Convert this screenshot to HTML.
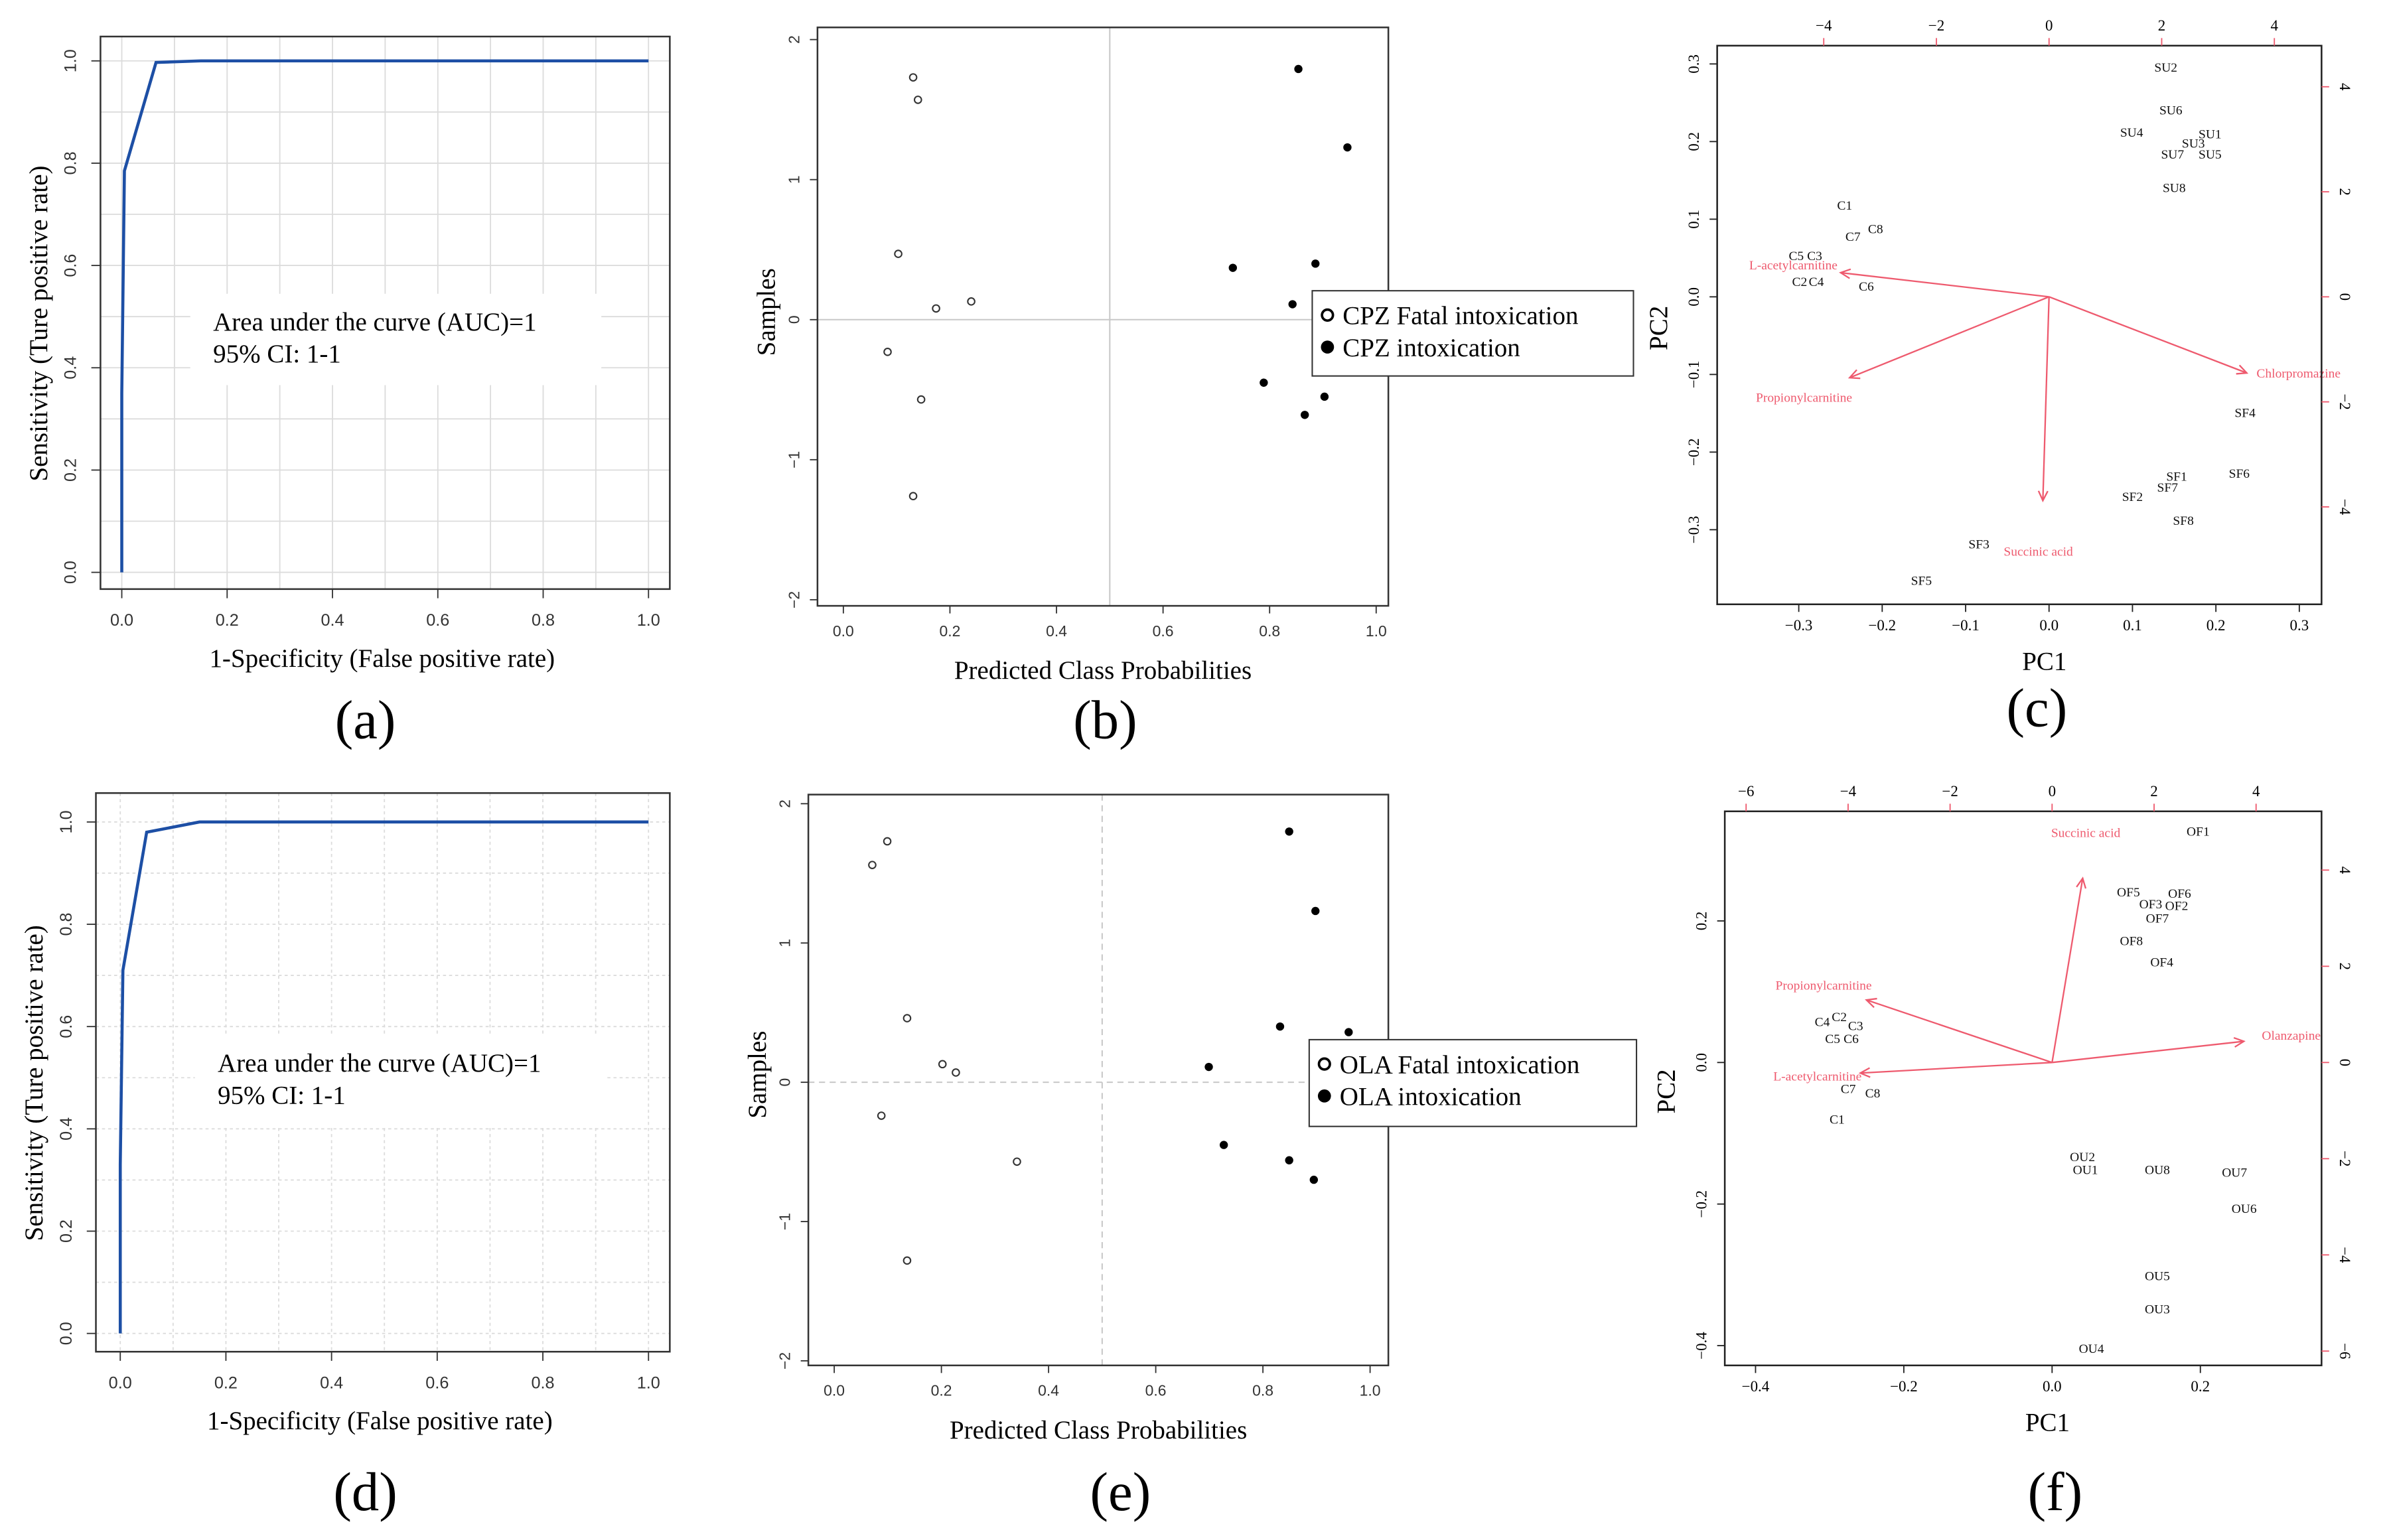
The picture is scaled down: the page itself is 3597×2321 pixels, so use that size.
<!DOCTYPE html>
<html><head><meta charset="utf-8">
<style>
html,body{margin:0;padding:0;background:#fff;}
svg{display:block;}
text{font-family:"Liberation Serif",serif;}
.sans{font-family:"Liberation Sans",sans-serif;}
</style></head>
<body>
<svg id="fig" xmlns="http://www.w3.org/2000/svg" width="3597" height="2321" viewBox="0 0 1568 1011.7" preserveAspectRatio="none"></svg>
<script>
// ---------- DATA ----------
// ROC (a)
const rocA_fpr = [0, 0, 0.005, 0.065, 0.15, 1];
const rocA_tpr = [0, 0.35, 0.785, 0.997, 1, 1];
// ROC (d)
const rocD_fpr = [0, 0, 0.005, 0.05, 0.15, 1];
const rocD_tpr = [0, 0.33, 0.71, 0.98, 1, 1];
const rocTicks = [0, 0.2, 0.4, 0.6, 0.8, 1.0];
const rocTickLabels = ["0.0","0.2","0.4","0.6","0.8","1.0"];
// Scatter (b)
const bFatalX = [0.131, 0.140, 0.103, 0.240, 0.174, 0.083, 0.146, 0.131];
const bFatalY = [1.73, 1.57, 0.47, 0.13, 0.08, -0.23, -0.57, -1.26];
const bIntoxX = [0.854, 0.946, 0.731, 0.886, 0.843, 0.789, 0.903, 0.866];
const bIntoxY = [1.79, 1.23, 0.37, 0.40, 0.11, -0.45, -0.55, -0.68];
// Scatter (e)
const eFatalX = [0.099, 0.071, 0.136, 0.202, 0.227, 0.088, 0.341, 0.136];
const eFatalY = [1.73, 1.56, 0.46, 0.13, 0.07, -0.24, -0.57, -1.28];
const eIntoxX = [0.849, 0.898, 0.832, 0.960, 0.699, 0.727, 0.849, 0.895];
const eIntoxY = [1.80, 1.23, 0.40, 0.36, 0.11, -0.45, -0.56, -0.70];
const probTicks = [0, 0.2, 0.4, 0.6, 0.8, 1.0];
const probTickLabels = ["0.0","0.2","0.4","0.6","0.8","1.0"];
const sampTicks = [2, 1, 0, -1, -2];
const sampTickLabels = ["2","1","0","\u22121","\u22122"];
// Biplot (c)
const cNames = ["SU2","SU6","SU4","SU1","SU3","SU7","SU5","SU8","C1","C7","C8","C5","C3","C2","C4","C6","SF4","SF6","SF1","SF7","SF2","SF8","SF3","SF5"];
const cPC1 = [0.140,0.146,0.099,0.193,0.173,0.148,0.193,0.150,-0.245,-0.235,-0.208,-0.303,-0.281,-0.299,-0.279,-0.219,0.235,0.228,0.153,0.142,0.100,0.161,-0.084,-0.153];
const cPC2 = [0.296,0.241,0.212,0.210,0.198,0.184,0.184,0.141,0.118,0.078,0.088,0.053,0.053,0.020,0.020,0.014,-0.149,-0.227,-0.231,-0.245,-0.257,-0.288,-0.318,-0.365];
const cVarNames = ["L-acetylcarnitine","Propionylcarnitine","Succinic acid","Chlorpromazine"];
const cVarX = [-3.70, -3.54, -0.11, 3.51];
const cVarY = [0.46, -1.54, -3.88, -1.45];
const cVarLabX = [-4.54, -4.35, -0.19, 4.43];
const cVarLabY = [0.61, -1.91, -4.84, -1.45];
const cBottomTicks = [-0.3,-0.2,-0.1,0,0.1,0.2,0.3];
const cBottomLabels = ["\u22120.3","\u22120.2","\u22120.1","0.0","0.1","0.2","0.3"];
const cLeftTicks = [0.3,0.2,0.1,0,-0.1,-0.2,-0.3];
const cLeftLabels = ["0.3","0.2","0.1","0.0","\u22120.1","\u22120.2","\u22120.3"];
const cTopTicks = [-4,-2,0,2,4];
const cTopLabels = ["\u22124","\u22122","0","2","4"];
const cRightTicks = [4,2,0,-2,-4];
const cRightLabels = ["4","2","0","\u22122","\u22124"];
// Biplot (f)
const fNames = ["OF1","OF5","OF6","OF3","OF2","OF7","OF8","OF4","C2","C4","C3","C5","C6","C7","C8","C1","OU2","OU1","OU8","OU7","OU6","OU5","OU3","OU4"];
const fPC1 = [0.197,0.103,0.172,0.133,0.168,0.142,0.107,0.148,-0.287,-0.310,-0.265,-0.296,-0.271,-0.275,-0.242,-0.290,0.041,0.045,0.142,0.246,0.259,0.142,0.142,0.053];
const fPC2 = [0.327,0.241,0.239,0.224,0.222,0.204,0.172,0.142,0.065,0.058,0.052,0.034,0.034,-0.037,-0.043,-0.080,-0.133,-0.151,-0.151,-0.155,-0.206,-0.301,-0.348,-0.404];
const fVarNames = ["Succinic acid","Propionylcarnitine","L-acetylcarnitine","Olanzapine"];
const fVarX = [0.60, -3.64, -3.76, 3.76];
const fVarY = [3.83, 1.30, -0.22, 0.44];
const fVarLabX = [0.66, -4.48, -4.60, 4.69];
const fVarLabY = [4.78, 1.61, -0.28, 0.57];
const fBottomTicks = [-0.4,-0.2,0,0.2];
const fBottomLabels = ["\u22120.4","\u22120.2","0.0","0.2"];
const fLeftTicks = [0.2,0,-0.2,-0.4];
const fLeftLabels = ["0.2","0.0","\u22120.2","\u22120.4"];
const fTopTicks = [-6,-4,-2,0,2,4];
const fTopLabels = ["\u22126","\u22124","\u22122","0","2","4"];
const fRightTicks = [4,2,0,-2,-4,-6];
const fRightLabels = ["4","2","0","\u22122","\u22124","\u22126"];

// ---------- HELPERS ----------
const NS = 'http://www.w3.org/2000/svg';
const svg = document.getElementById('fig');
function mk(tag, a, p) { const e = document.createElementNS(NS, tag); for (const k in a) e.setAttribute(k, a[k]); (p || svg).appendChild(e); return e; }
function tx(x, y, s, a, p) { const e = mk('text', Object.assign({x: x, y: y}, a), p); e.textContent = s; return e; }
function lin(lo, hi, plo, phi) { return v => plo + (v - lo) / (hi - lo) * (phi - plo); }
const RED = '#ee5a6e';

// ---------- ROC PANEL ----------
function rocPanel(id, F, fpr, tpr, dotted, txtX, txtY) {
  const g = mk('g', {});
  
  
  const sx = lin(0, 1, F.x0v, F.x1v), sy = lin(0, 1, F.y0v, F.y1v);
  for (let i = 0; i <= 10; i++) {
    const v = i / 10;
    let l = mk('line', {x1: sx(v), x2: sx(v), y1: F.t, y2: F.b, stroke: '#dcdcdc', 'stroke-width': 0.8, 'stroke-dasharray': dotted ? '2,2' : 'none'}, g);
    
    
    l = mk('line', {x1: F.l, x2: F.r, y1: sy(v), y2: sy(v), stroke: '#dcdcdc', 'stroke-width': 0.8, 'stroke-dasharray': dotted ? '2,2' : 'none'}, g);
    
    
  }
  let bg = mk('rect', {x: txtX - 15, y: txtY - 24, width: 270, height: 60, fill: '#fff'}, g);
  
  
  let pts = fpr.map((v, i) => sx(v) + ',' + sy(tpr[i])).join(' ');
  let pl = mk('polyline', {points: pts, fill: 'none', stroke: '#1d4fa5', 'stroke-width': 2}, g);
  
  
  let fr = mk('rect', {x: F.l, y: F.t, width: F.r - F.l, height: F.b - F.t, fill: 'none', stroke: '#333', 'stroke-width': 1.1}, g);
  
  
  rocTicks.forEach((v, i) => {
    let t = mk('line', {x1: sx(v), x2: sx(v), y1: F.b, y2: F.b + 6, stroke: '#333', 'stroke-width': 0.8}, g);
    
    
    let lb = tx(sx(v), F.b + 24, rocTickLabels[i], {'text-anchor': 'middle', 'font-size': 11, class: 'sans', fill: '#333'}, g);
    
    
    t = mk('line', {x1: F.l, x2: F.l - 6, y1: sy(v), y2: sy(v), stroke: '#333', 'stroke-width': 0.8}, g);
    
    
    lb = tx(F.l - 16, sy(v), rocTickLabels[i], {'text-anchor': 'middle', 'font-size': 11, class: 'sans', fill: '#333', transform: 'rotate(-90 ' + (F.l - 16) + ' ' + sy(v) + ')'}, g);
    
    
  });
  let a1 = tx(txtX, txtY, 'Area under the curve (AUC)=1', {'font-size': 17}, g);
  
  
  let a2 = tx(txtX, txtY + 21, '95% CI: 1-1', {'font-size': 17}, g);
  
  
  let xt = tx((F.l + F.r) / 2 - 2, F.b + 51, '1-Specificity (False positive rate)', {'text-anchor': 'middle', 'font-size': 17}, g);
  
  
  const yx = F.l - 35, yy = (F.t + F.b) / 2 + 7;
  let yt = tx(yx, yy, 'Sensitivity (Ture positive rate)', {'text-anchor': 'middle', 'font-size': 17, transform: 'rotate(-90 ' + yx + ' ' + yy + ')'}, g);
  
  
}

// ---------- SCATTER PANEL ----------
function scatterPanel(id, F, fx, fy, ix, iy, dashed, legTitles, legBox) {
  const g = mk('g', {});
  
  
  const sx = lin(0, 1, F.x0v, F.x1v), sy = lin(0, 1, F.y0v, F.y1v);
  let r1 = mk('line', {x1: sx(0.5), x2: sx(0.5), y1: F.t, y2: F.b, stroke: '#c8c8c8', 'stroke-width': 0.9, 'stroke-dasharray': dashed ? '4,3' : 'none'}, g);
  
  
  let r2 = mk('line', {x1: F.l, x2: F.r, y1: sy(0), y2: sy(0), stroke: '#c8c8c8', 'stroke-width': 0.9, 'stroke-dasharray': dashed ? '4,3' : 'none'}, g);
  
  
  fx.forEach((v, i) => {
    let c = mk('circle', {cx: sx(v), cy: sy(fy[i]), r: 2.3, fill: '#fff', stroke: '#333', 'stroke-width': 0.9}, g);
    
    
  });
  ix.forEach((v, i) => {
    let c = mk('circle', {cx: sx(v), cy: sy(iy[i]), r: 2.7, fill: '#000'}, g);
    
    
  });
  let fr = mk('rect', {x: F.l, y: F.t, width: F.r - F.l, height: F.b - F.t, fill: 'none', stroke: '#333', 'stroke-width': 1.1}, g);
  
  
  probTicks.forEach((v, i) => {
    let t = mk('line', {x1: sx(v), x2: sx(v), y1: F.b, y2: F.b + 5, stroke: '#333', 'stroke-width': 0.8}, g);
    
    
    let lb = tx(sx(v), F.b + 20, probTickLabels[i], {'text-anchor': 'middle', 'font-size': 10, class: 'sans', fill: '#333'}, g);
    
    
  });
  sampTicks.forEach((v, i) => {
    let t = mk('line', {x1: F.l, x2: F.l - 5, y1: sy(v), y2: sy(v), stroke: '#333', 'stroke-width': 0.8}, g);
    
    
    const lx = F.l - 12;
    let lb = tx(lx, sy(v), sampTickLabels[i], {'text-anchor': 'middle', 'font-size': 10, class: 'sans', fill: '#333', transform: 'rotate(-90 ' + lx + ' ' + sy(v) + ')'}, g);
    
    
  });
  let xt = tx((F.l + F.r) / 2, F.b + 48, 'Predicted Class Probabilities', {'text-anchor': 'middle', 'font-size': 17}, g);
  
  
  const yx = F.l - 28, yy = sy(0) - 5;
  let yt = tx(yx, yy, 'Samples', {'text-anchor': 'middle', 'font-size': 17, transform: 'rotate(-90 ' + yx + ' ' + yy + ')'}, g);
  
  
  const lg = mk('g', {}, g);
  
  
  let lbx = mk('rect', {x: legBox.x, y: legBox.y, width: legBox.w, height: legBox.h, fill: '#fff', stroke: '#333', 'stroke-width': 0.9}, lg);
  
  
  let c1 = mk('circle', {cx: legBox.x + 10, cy: legBox.y + 16, r: 3.6, fill: '#fff', stroke: '#000', 'stroke-width': 1.6}, lg);
  
  
  let t1 = tx(legBox.x + 20, legBox.y + 22, legTitles[0], {'font-size': 17}, lg);
  
  
  let c2 = mk('circle', {cx: legBox.x + 10, cy: legBox.y + 37, r: 4.3, fill: '#000'}, lg);
  
  
  let t2 = tx(legBox.x + 20, legBox.y + 43, legTitles[1], {'font-size': 17}, lg);
  
  
}

// ---------- BIPLOT PANEL ----------
function biplot(id, F, names, px, py, vnames, vx, vy, vlx, vly, T) {
  const g = mk('g', {});
  
  
  const sx = lin(0, 1, F.ox, F.ox + F.kx), sy = lin(0, 1, F.oy, F.oy - F.ky);
  const ax = lin(0, 1, F.ox, F.ox + F.kax), ay = lin(0, 1, F.oy, F.oy - F.kay);
  names.forEach((n, i) => {
    let t = tx(sx(px[i]), sy(py[i]) + 3, n, {'text-anchor': 'middle', 'font-size': 8.5, fill: '#111'}, g);
    
    
  });
  vnames.forEach((n, i) => {
    const x0 = ax(0), y0 = ay(0), x1 = ax(vx[i]), y1 = ay(vy[i]);
    let l = mk('line', {x1: x0, y1: y0, x2: x1, y2: y1, stroke: RED, 'stroke-width': 1}, g);
    
    
    const ang = Math.atan2(y1 - y0, x1 - x0), L = 7, w = 0.45;
    const h = mk('polyline', {points: (x1 - L * Math.cos(ang - w)) + ',' + (y1 - L * Math.sin(ang - w)) + ' ' + x1 + ',' + y1 + ' ' + (x1 - L * Math.cos(ang + w)) + ',' + (y1 - L * Math.sin(ang + w)), fill: 'none', stroke: RED, 'stroke-width': 1}, g);
    
    
    let t = tx(ax(vlx[i]), ay(vly[i]) + 3, n, {'text-anchor': 'middle', 'font-size': 8.5, fill: RED}, g);
    
    
  });
  let fr = mk('rect', {x: F.l, y: F.t, width: F.r - F.l, height: F.b - F.t, fill: 'none', stroke: '#222', 'stroke-width': 1.1}, g);
  
  
  T.bt.forEach((v, i) => {
    let t = mk('line', {x1: sx(v), x2: sx(v), y1: F.b, y2: F.b + 5, stroke: '#222', 'stroke-width': 0.8}, g);
    
    
    let lb = tx(sx(v), F.b + 17, T.bl[i], {'text-anchor': 'middle', 'font-size': 10}, g);
    
    
  });
  T.lt.forEach((v, i) => {
    let t = mk('line', {x1: F.l, x2: F.l - 5, y1: sy(v), y2: sy(v), stroke: '#222', 'stroke-width': 0.8}, g);
    
    
    const lx = F.l - 12;
    let lb = tx(lx, sy(v), T.ll[i], {'text-anchor': 'middle', 'font-size': 10, transform: 'rotate(-90 ' + lx + ' ' + sy(v) + ')'}, g);
    
    
  });
  T.tt.forEach((v, i) => {
    let t = mk('line', {x1: ax(v), x2: ax(v), y1: F.t, y2: F.t - 5, stroke: RED, 'stroke-width': 0.8}, g);
    
    
    let lb = tx(ax(v), F.t - 10, T.tl[i], {'text-anchor': 'middle', 'font-size': 10}, g);
    
    
  });
  T.rt.forEach((v, i) => {
    let t = mk('line', {x1: F.r, x2: F.r + 5, y1: ay(v), y2: ay(v), stroke: RED, 'stroke-width': 0.8}, g);
    
    
    const lx = F.r + 12;
    let lb = tx(lx, ay(v), T.rl[i], {'text-anchor': 'middle', 'font-size': 10, transform: 'rotate(90 ' + lx + ' ' + ay(v) + ')'}, g);
    
    
  });
  let xt = tx(F.ox - 3, F.b + 43, 'PC1', {'text-anchor': 'middle', 'font-size': 17}, g);
  
  
  const yx = F.l - 33, yy = (F.t + F.b) / 2 + 2;
  let yt = tx(yx, yy, 'PC2', {'text-anchor': 'middle', 'font-size': 17, transform: 'rotate(-90 ' + yx + ' ' + yy + ')'}, g);
  
  
}

// ---------- DRAW ----------
rocPanel('a', {l: 66, r: 440, t: 24, b: 387, x0v: 80, x1v: 426, y0v: 376, y1v: 40}, rocA_fpr, rocA_tpr, false, 140, 217);
rocPanel('d', {l: 63, r: 440, t: 521, b: 888, x0v: 79, x1v: 426, y0v: 876, y1v: 540}, rocD_fpr, rocD_tpr, true, 143, 704);
scatterPanel('b', {l: 537, r: 912, t: 18, b: 398, x0v: 554, x1v: 904, y0v: 210, y1v: 118}, bFatalX, bFatalY, bIntoxX, bIntoxY, false, ['CPZ Fatal intoxication', 'CPZ intoxication'], {x: 862, y: 191, w: 211, h: 56});
scatterPanel('e', {l: 531, r: 912, t: 522, b: 897, x0v: 548, x1v: 900, y0v: 711, y1v: 619.5}, eFatalX, eFatalY, eIntoxX, eIntoxY, true, ['OLA Fatal intoxication', 'OLA intoxication'], {x: 860, y: 683, w: 215, h: 57});
biplot('c', {l: 1128, r: 1525, t: 30, b: 397, ox: 1346, oy: 195, kx: 548, ky: 510, kax: 37, kay: 34.5},
  cNames, cPC1, cPC2, cVarNames, cVarX, cVarY, cVarLabX, cVarLabY,
  {bt: cBottomTicks, bl: cBottomLabels, lt: cLeftTicks, ll: cLeftLabels, tt: cTopTicks, tl: cTopLabels, rt: cRightTicks, rl: cRightLabels});
biplot('f', {l: 1133, r: 1525, t: 533, b: 897, ox: 1348, oy: 698, kx: 487, ky: 465, kax: 33.5, kay: 31.6},
  fNames, fPC1, fPC2, fVarNames, fVarX, fVarY, fVarLabX, fVarLabY,
  {bt: fBottomTicks, bl: fBottomLabels, lt: fLeftTicks, ll: fLeftLabels, tt: fTopTicks, tl: fTopLabels, rt: fRightTicks, rl: fRightLabels});

// panel letters
const letters = ['(a)', '(b)', '(c)', '(d)', '(e)', '(f)'];
const letterX = [240, 726, 1338, 240, 736, 1350];
const letterY = [485, 485, 477, 992, 992, 992];
letters.forEach((s, i) => {
  let t = tx(letterX[i], letterY[i], s, {'text-anchor': 'middle', 'font-size': 36}, svg);
  
  
});
</script>
</body></html>
